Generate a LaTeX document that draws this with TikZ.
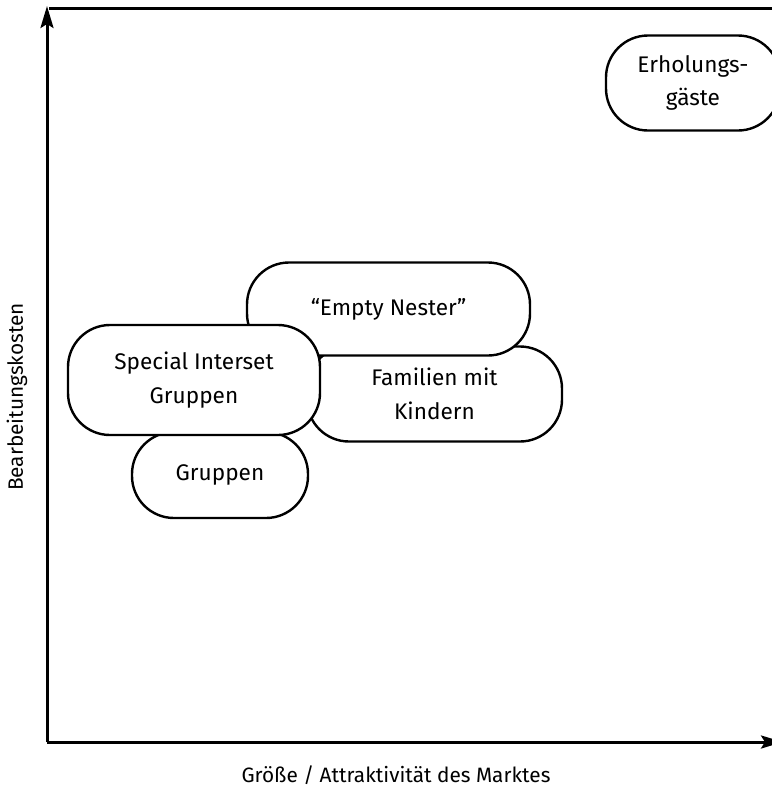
\documentclass[tikz,border=0pt]{standalone}
\usepackage{fontspec}
\setmainfont{Fira Sans}
\usetikzlibrary{arrows.meta}
\tikzset{>/.tip={Stealth[length=11pt,width=6.5pt,inset=2pt]},
  segment/.style={draw, fill=white, line width=1.2pt, rounded corners=21pt, align=center,
    inner sep=0pt, font=\fontsize{11.3}{16.8}\selectfont},
  axis/.style={line width=1.5pt},
  axislabel/.style={font=\fontsize{10.4}{13}\selectfont}}

\begin{document}
\begin{tikzpicture}[x=0.5pt, y=-0.5pt]
\useasboundingbox (0,0) rectangle (772,789);
\clip (0,0) rectangle (772,789);

\coordinate (origin) at (47,742);
\coordinate (ytop) at (47,6);
\coordinate (xend) at (783,742);
\coordinate (topleft) at (49,8);
\coordinate (topright) at (772,8);

\draw[axis, ->] (origin) to (ytop);
\draw[axis, ->] (origin) to (xend);
\draw[axis] (topleft) to (topright);

\node[axislabel, rotate=90] (ylabel) at (17,397) {Bearbeitungskosten};
\node[axislabel] (xlabel) at (396,775) {Größe / Attraktivität des Marktes};

\node[segment, minimum width=88pt, minimum height=43pt] (gruppen) at (220,475) {Gruppen};
\node[segment, minimum width=127.5pt, minimum height=47.5pt] (familien) at (434.5,394) {Familien mit\\Kindern};
\node[segment, minimum width=141.5pt, minimum height=46.5pt] (nester) at (388.5,309) {“Empty Nester”};
\node[segment, minimum width=126pt, minimum height=55pt] (special) at (194,380) {Special Interset\\Gruppen};
\node[segment, minimum width=87pt, minimum height=47.5pt] (erholung) at (693,83) {Erholungs-\\gäste};
\end{tikzpicture}
\end{document}
